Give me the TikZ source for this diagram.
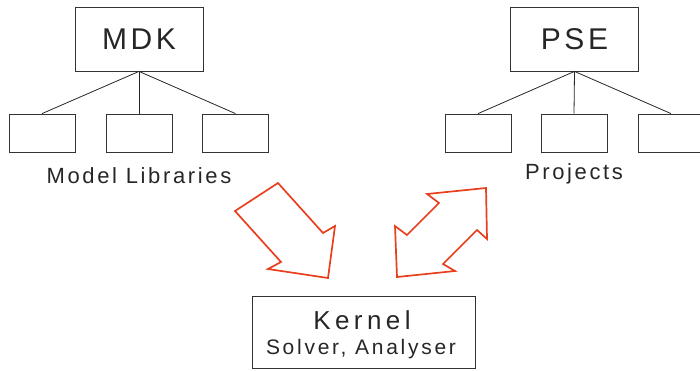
\documentclass[tikz,border=0pt]{standalone}
\usepackage{fontspec}
\setmainfont{Liberation Sans}[LetterSpace=12]
\newfontfamily\widefont{Liberation Sans}[LetterSpace=17]
\usepackage{tikz}
\definecolor{arrowred}{RGB}{232,64,30}

\begin{document}
\begin{tikzpicture}[x=1pt, y=-1pt,
    head/.style={draw=black!80, line width=0.8pt, minimum width=128pt, minimum height=64pt, inner sep=0pt, text=black!85, font=\fontsize{30}{30}\selectfont},
    leaf/.style={draw=black!80, line width=0.8pt, minimum width=66pt, minimum height=38pt, inner sep=0pt},
    caption/.style={text=black!85, font=\fontsize{22}{22}\selectfont},
    branch/.style={line width=0.8pt, black!85},
    bigarrow/.style={draw=arrowred, line width=1.7pt, line join=miter}]
        \useasboundingbox (0, 0) rectangle (700, 370);
        \node[head] (mdk) at (139, 39) {MDK};
        \node[leaf] (lib1) at (42, 133) {};
        \node[leaf] (lib2) at (139, 133) {};
        \node[leaf] (lib3) at (235.5, 133) {};
        \node[caption] (libs) at (139, 176) {Model Libraries};
        \draw[branch] (mdk.south) -- (lib1.north);
        \draw[branch] (mdk.south) -- (lib2.north);
        \draw[branch] (mdk.south) -- (lib3.north);
        \node[head] (pse) at (574.5, 39) {PSE};
        \node[leaf] (prj1) at (478, 133) {};
        \node[leaf] (prj2) at (574, 133) {};
        \node[leaf] (prj3) at (671, 133) {};
        \node[caption] (prjs) at (574, 174) {Projects};
        \draw[branch] (pse.south) -- (prj1.north);
        \draw[branch] (pse.south) -- (prj2.north);
        \draw[branch] (pse.south) -- (prj3.north);
        \node[draw=black!80, line width=0.8pt, minimum width=223pt, minimum height=72pt, inner sep=0pt] (kernel) at (363.5, 332) {};
        \node[text=black!85, font=\widefont\fontsize{26}{26}\selectfont] (kname) at (362, 320) {Kernel};
        \node[text=black!85, font=\addfontfeature{LetterSpace=13}\fontsize{21}{21}\selectfont] (kjob) at (361, 349) {Solver, Analyser};
        \draw[bigarrow] (235, 211) -- (278, 183) -- (323, 233) -- (335, 226) -- (328, 278) -- (268, 269) -- (281, 262) -- cycle;
        \draw[bigarrow] (427, 194) -- (486, 188) -- (487, 239) -- (477, 230) -- (443, 264) -- (455, 271) -- (397, 277) -- (395, 226) -- (407, 235) -- (439, 203) -- cycle;
\end{tikzpicture}
\end{document}
